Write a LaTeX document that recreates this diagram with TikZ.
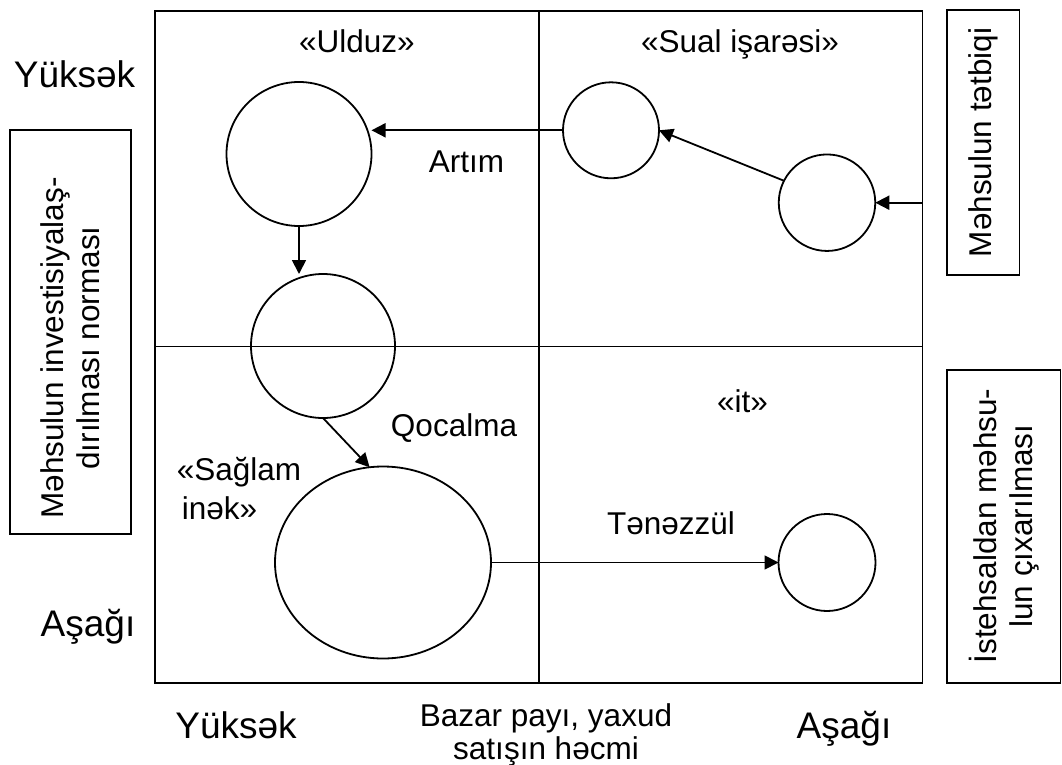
\documentclass[tikz,border=0pt]{standalone}
\usepackage{fontspec}
\setmainfont{Liberation Sans}
\usetikzlibrary{arrows.meta,shapes.geometric,calc}
\newcommand{\txtsize}{\fontsize{31.5}{36}\selectfont}
\newcommand{\axsize}{\fontsize{37}{42}\selectfont}

\begin{document}
\begin{tikzpicture}[x=1pt,y=-1pt,line width=1.8pt]
\tikzstyle{ring} = [ellipse, draw, inner sep=0pt, outer sep=0pt]
\tikzstyle{lbl} = [inner sep=0pt, anchor=base, font=\txtsize]
\tikzstyle{axis} = [inner sep=0pt, anchor=base, font=\axsize]
\tikzstyle{arr} = [-{Triangle[length=14pt,width=14pt]}]
\useasboundingbox (0,0) rectangle (1062,765);
% matrix
\coordinate (NW) at (155,11);
\coordinate (SE) at (922.5,683);
\coordinate (M) at (539.3,346.5);
\draw (NW) rectangle (SE);
\draw (M |- NW) -- (M |- SE);
\draw (NW |- M) -- (SE |- M);
% side boxes
\draw (10,130) rectangle (131,534);
\draw (947,10) rectangle (1019.5,275);
\draw (947,370) rectangle (1060.5,683);
\node[lbl, rotate=90, anchor=center, align=center] (invest) at (70,348) {Məhsulun investisiyalaş-\\dırılması norması};
\node[lbl, rotate=90, anchor=center] (tetbiq) at (983,142.5) {Məhsulun tətbiqi};
\node[lbl, rotate=90, anchor=center, align=center] (cixar) at (1004,526) {İstehsaldan məhsu-\\lun çıxarılması};
% circles
\node[ring, minimum width=145pt, minimum height=144pt] (star) at (299,154) {};
\node[ring, minimum size=144pt] (mid) at (323,346) {};
\node[ring, minimum width=216pt, minimum height=192pt] (cow) at (383,562.5) {};
\node[ring, minimum size=96pt] (q1) at (611,130.3) {};
\node[ring, minimum size=96.5pt] (q2) at (827,202.7) {};
\node[ring, minimum size=97pt] (dog) at (827,562.5) {};
% arrows
\draw[arr] (q1.west) -- (star.east |- q1.west);
\draw[arr] (q2.153) -- (q1.east);
\draw[arr] (SE |- q2.east) -- (q2.east);
\draw[arr] (star.south) -- (star.south |- mid.north);
\draw[arr] (mid.south) -- (cow.98);
\draw[arr] (cow.east) -- (dog.west);
% labels
\node[lbl] (ulduz) at (357,53) {«Ulduz»};
\node[lbl] (sual) at (740,53) {«Sual işarəsi»};
\node[lbl] (artim) at (466.5,172.7) {Artım};
\node[lbl] (qocalma) at (454,436) {Qocalma};
\node[lbl, anchor=base west] (saglam) at (176,480) {«Sağlam};
\node[lbl, anchor=base west] (inek) at (181,519) {inək»};
\node[lbl] (it) at (742.5,412) {«it»};
\node[lbl] (tenezzul) at (671,534) {Tənəzzül};
\node[axis] (yukY) at (74.5,88) {Yüksək};
\node[axis] (asaY) at (88,636) {Aşağı};
\node[axis] (yukX) at (236,738) {Yüksək};
\node[axis] (asaX) at (844,738) {Aşağı};
\node[lbl] (bazar) at (546,726) {Bazar payı, yaxud};
\node[lbl] (satis) at (546,759) {satışın həcmi};
\end{tikzpicture}
\end{document}
